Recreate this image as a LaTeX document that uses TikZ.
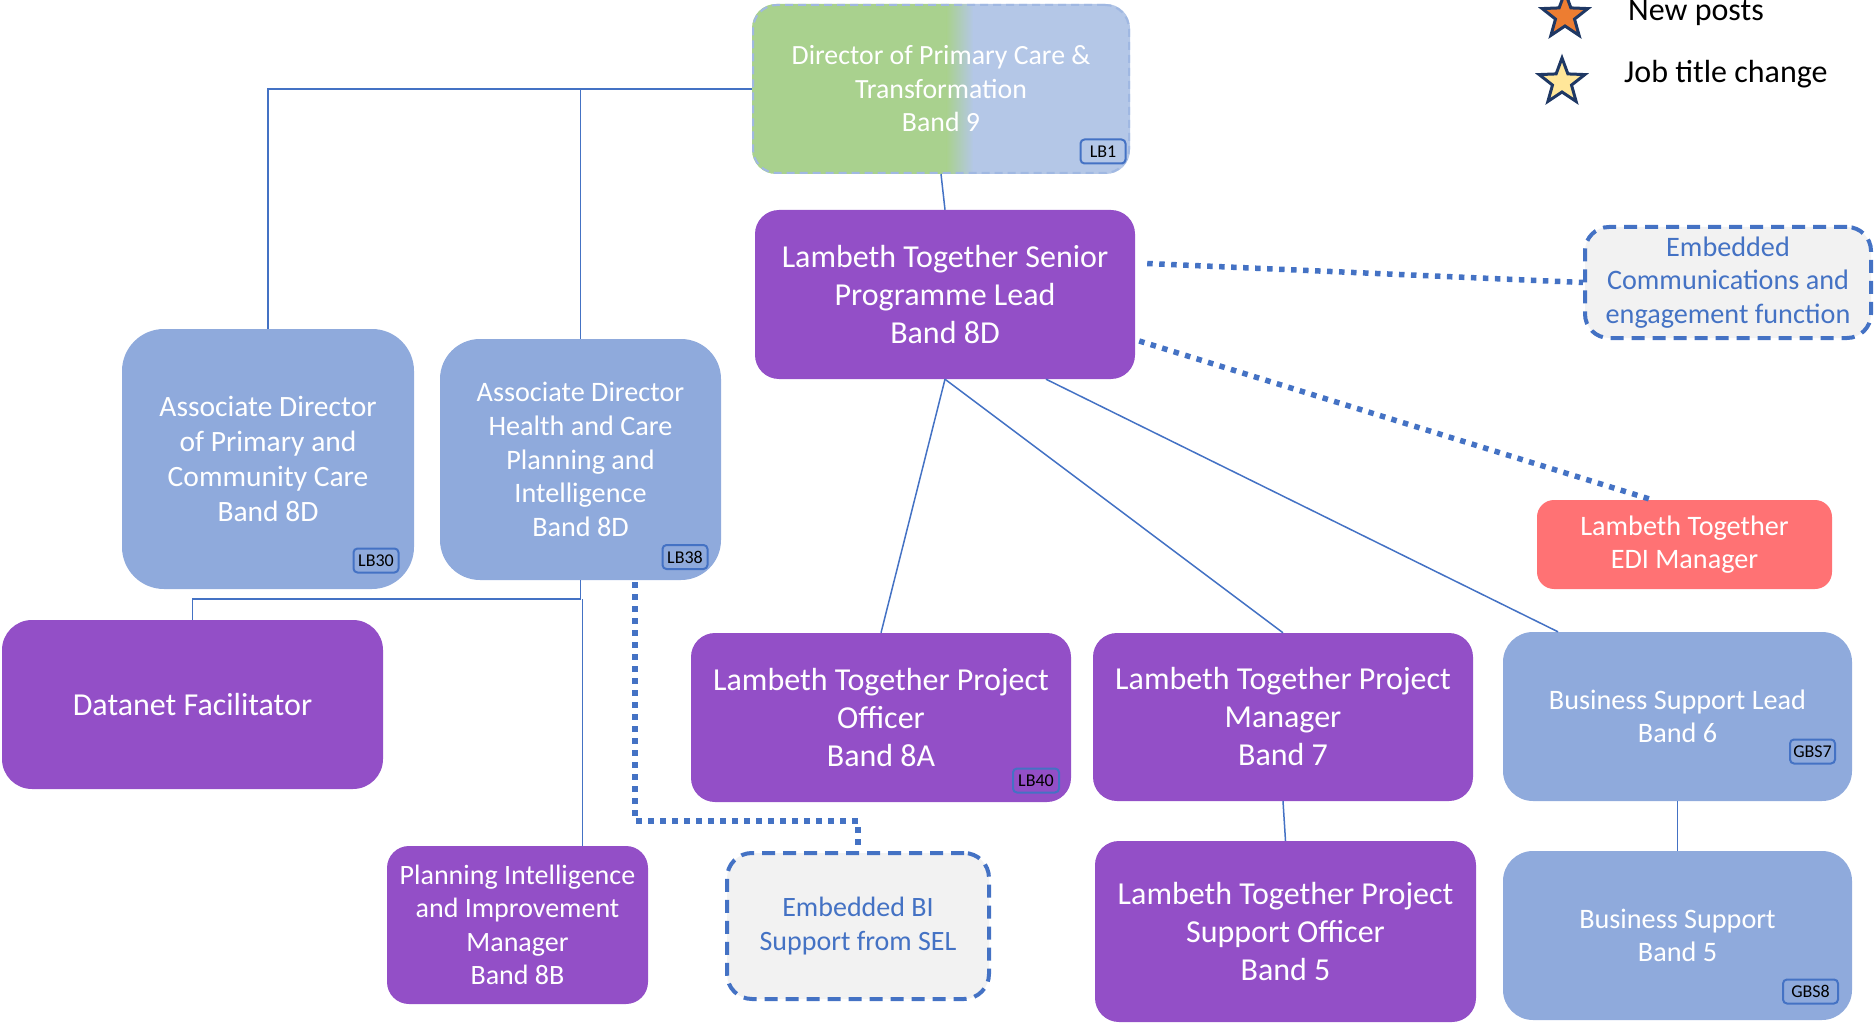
\documentclass[tikz,border=0pt]{standalone}
\usepackage{fontspec}
\setmainfont{Carlito}
\usetikzlibrary{shapes.geometric,backgrounds,calc}
\definecolor{purp}{RGB}{147,79,199}
\definecolor{lblue}{RGB}{143,170,220}
\definecolor{lineblue}{RGB}{68,114,196}
\definecolor{edired}{RGB}{255,114,116}
\definecolor{dgreen}{RGB}{169,209,142}
\definecolor{dblue}{RGB}{180,199,231}
\definecolor{dborder}{RGB}{160,184,226}
\definecolor{egrey}{RGB}{242,242,242}
\definecolor{navy}{RGB}{31,56,100}
\definecolor{starorange}{RGB}{237,125,49}
\definecolor{staryellow}{RGB}{255,230,153}
\begin{document}
\begin{tikzpicture}[x=1pt,y=-1pt,
  boxbase/.style={inner sep=0pt, align=center, text=white},
  purpbox/.style={boxbase, fill=purp},
  bluebox/.style={boxbase, fill=lblue},
  redbox/.style={boxbase, fill=edired},
  embbox/.style={boxbase, fill=egrey, draw=lineblue, line width=4pt, dash pattern=on 13pt off 8pt, text=lineblue},
  fbig/.style={font=\fontsize{32pt}{38pt}\selectfont},
  fsmall/.style={font=\fontsize{28.2pt}{32.5pt}\selectfont},
  tagbox/.style={draw=lineblue, line width=2pt, rounded corners=4pt, inner sep=1pt, minimum height=24pt, font=\fontsize{18pt}{20pt}\selectfont, text=black},
  conn/.style={draw=lineblue, line width=1.5pt},
  dotline/.style={draw=lineblue, line width=5.5pt, dash pattern=on 5.5pt off 6.5pt},
  legstar/.style={star, star points=5, star point ratio=2.4, minimum size=48pt, inner sep=0pt, draw=navy, line width=3pt},
  legtext/.style={anchor=base west, inner sep=0pt, font=\fontsize{32pt}{38pt}\selectfont}
]
\useasboundingbox (0,0) rectangle (1874,1024);

% Director
\node[boxbase, draw=dborder, line width=2pt, dash pattern=on 8pt off 5pt, rounded corners=24pt,
  minimum width=376pt, minimum height=168pt, font=\fontsize{27.8pt}{33.5pt}\selectfont] (dir) at (941,89)
  {Director of Primary Care \&\\ Transformation\\ Band 9};
\begin{scope}[on background layer]
  \clip[rounded corners=24pt] (dir.south west) rectangle (dir.north east);
  \fill[dgreen] (740,0) rectangle (947,180);
  \shade[left color=dgreen, right color=dblue] (946.5,0) rectangle (973.5,180);
  \fill[dblue] (973,0) rectangle (1140,180);
\end{scope}
\node[tagbox, minimum width=45pt] (t1) at (1103,151.5) {LB1};

% Senior lead
\node[purpbox, rounded corners=24pt, minimum width=380pt, minimum height=169pt, fbig] (lead) at (945,294.5)
  {Lambeth Together Senior\\ Programme Lead\\ Band 8D};

% Embedded comms
\node[embbox, rounded corners=24pt, minimum width=286pt, minimum height=111pt, font=\fontsize{28.2pt}{33.5pt}\selectfont] (comms) at (1728,282.5)
  {Embedded\\ Communications and\\ engagement function};

% Associate directors
\node[bluebox, rounded corners=42pt, minimum width=292pt, minimum height=260pt, font=\fontsize{29.5pt}{35pt}\selectfont] (adp) at (268,459)
  {Associate Director\\ of Primary and\\ Community Care\\ Band 8D};
\node[tagbox, minimum width=45pt] (t30) at (376,560.5) {LB30};

\node[bluebox, rounded corners=40pt, minimum width=281pt, minimum height=241pt, font=\fontsize{28.2pt}{33.7pt}\selectfont] (adh) at (580.5,459.5)
  {Associate Director\\ Health and Care\\ Planning and\\ Intelligence\\ Band 8D};
\node[tagbox, minimum width=45pt] (t38) at (685,557) {LB38};

% EDI
\node[redbox, rounded corners=17pt, minimum width=295pt, minimum height=89pt, fsmall] (edi) at (1684.5,544.5)
  {Lambeth Together\\ EDI Manager};

% Datanet
\node[purpbox, rounded corners=30pt, minimum width=381pt, minimum height=169pt, fbig] (dat) at (192.5,704.5)
  {Datanet Facilitator};

% Project officer / manager
\node[purpbox, rounded corners=24pt, minimum width=380pt, minimum height=169pt, fbig] (po) at (881,717.5)
  {Lambeth Together Project\\ Officer\\ Band 8A};
\node[tagbox, minimum width=46pt] (t40) at (1036,780.5) {LB40};

\node[purpbox, rounded corners=24pt, minimum width=380pt, minimum height=168pt, fbig] (pm) at (1283,717)
  {Lambeth Together Project\\ Manager\\ Band 7};

% Business support lead
\node[bluebox, rounded corners=30pt, minimum width=349pt, minimum height=169pt, fsmall] (bsl) at (1677.5,716.5)
  {Business Support Lead\\ Band 6};
\node[tagbox, minimum width=45pt] (t7) at (1812.5,751.5) {GBS7};

% Bottom row
\node[purpbox, rounded corners=22pt, minimum width=261pt, minimum height=158pt, font=\fontsize{28pt}{33.5pt}\selectfont] (pi) at (517.5,925)
  {Planning Intelligence\\ and Improvement\\ Manager\\ Band 8B};

\node[embbox, rounded corners=25pt, minimum width=262pt, minimum height=146pt, font=\fontsize{28pt}{34.7pt}\selectfont] (ebi) at (858,926)
  {Embedded BI\\ Support from SEL};

\node[purpbox, rounded corners=24pt, minimum width=381pt, minimum height=181pt, fbig] (pso) at (1285.5,931.5)
  {Lambeth Together Project\\ Support Officer\\ Band 5};

\node[bluebox, rounded corners=30pt, minimum width=349pt, minimum height=169pt, fsmall] (bs) at (1677.5,935.5)
  {Business Support\\ Band 5};
\node[tagbox, minimum width=55pt] (t8) at (1810.5,991.5) {GBS8};

% Legend
\node[legstar, fill=starorange] (s1) at (1565,16) {};
\node[legtext] (l1) at (1628,21) {New posts};
\node[legstar, fill=staryellow] (s2) at (1562,82) {};
\node[legtext] (l2) at (1624,83) {Job title change};

% Solid connectors
\draw[conn] (dir.west) -| (adp.north);
\draw[conn] (adh.north) -- (adh.north |- dir.west);
\draw[conn] (dir.south) -- (lead.north);
\draw[conn] (lead.south) -- (po.north);
\draw[conn] (lead.south) -- (pm.north);
\draw[conn] ([xshift=101pt]lead.south) -- ([xshift=-119.5pt]bsl.north);
\draw[conn] (adh.south) -- ++(0,19) -| (dat.north);
\coordinate (pij) at (582.5,599);
\draw[conn] (pij) -- (pij |- pi.north);
\draw[conn] (pm.south) -- (pso.north);
\draw[conn] (bsl.south) -- (bs.north);

% Dotted connectors
\draw[dotline] ($(lead.east)+(12,-31)$) -- (comms.west);
\draw[dotline] ($(lead.east)+(4,46.5)$) -- ([xshift=-32.5pt]edi.north);
\draw[dotline] ($(adh.south)+(54.5,2)$) -- ++(0,239) -| (ebi.north);
\end{tikzpicture}
\end{document}
